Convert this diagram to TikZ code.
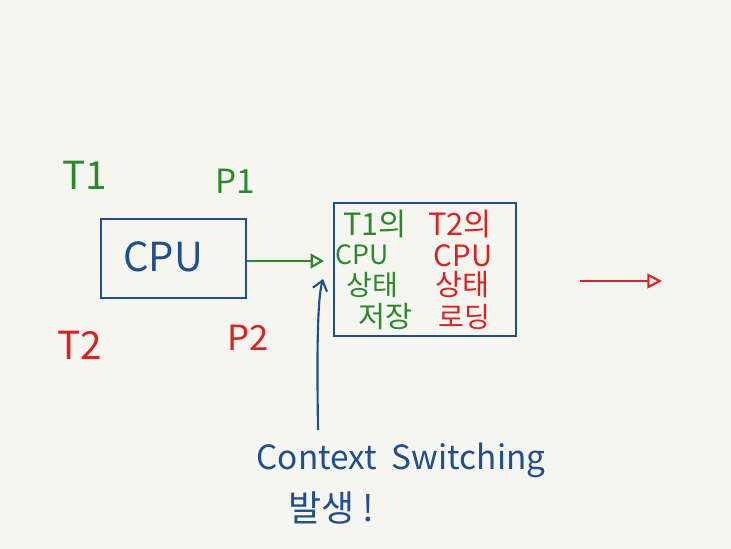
\documentclass[tikz,border=0pt]{standalone}
\usepackage{fontspec}
\setmainfont{Noto Sans CJK KR}
\usetikzlibrary{arrows.meta}
\definecolor{bgc}{HTML}{F6F6F1}
\definecolor{pgreen}{HTML}{2A8A2A}
\definecolor{pred}{HTML}{E0201E}
\definecolor{pblue}{HTML}{1F4F8F}
\tikzset{
  boxstyle/.style={draw=pblue, line width=1.5pt, inner sep=0pt},
  lbl/.style={inner sep=0pt, anchor=center},
  gtxt/.style={lbl, text=pgreen},
  rtxt/.style={lbl, text=pred},
  btxt/.style={lbl, text=pblue},
  conn/.style={line width=1.6pt},
}
\begin{document}
\begin{tikzpicture}[x=0.75pt,y=-0.75pt]
\fill[bgc] (0,0) rectangle (731,549);
\useasboundingbox (0,0) rectangle (731,549);

% labels outside
\node[gtxt, font=\fontsize{29}{34}\selectfont] (t1) at (85,175) {T1};
\node[gtxt, font=\fontsize{25}{30}\selectfont] (p1) at (235,181) {P1};
\node[rtxt, font=\fontsize{29}{34}\selectfont] (t2) at (80,345) {T2};
\node[rtxt, font=\fontsize{26}{30}\selectfont] (p2) at (248,338) {P2};

% CPU box
\node[boxstyle, minimum width=108.75pt, minimum height=59.25pt] (cpu) at (173.5,258.5) {};
\node[btxt, font=\fontsize{30}{34}\selectfont] (cputxt) at (163,257) {CPU};

% info box
\node[boxstyle, minimum width=136.5pt, minimum height=99.75pt] (info) at (425,269.5) {};
\node[gtxt, font=\fontsize{23}{26}\selectfont] (g1) at (375,224) {T1의};
\node[gtxt, font=\fontsize{20}{24}\selectfont] (g2) at (362,255) {CPU};
\node[gtxt, font=\fontsize{21}{24}\selectfont] (g3) at (372,285) {상태};
\node[gtxt, font=\fontsize{22}{24}\selectfont] (g4) at (385,317) {저장};
\node[rtxt, font=\fontsize{23}{26}\selectfont] (r1) at (460,224) {T2의};
\node[rtxt, font=\fontsize{22}{24}\selectfont] (r2) at (463,256) {CPU};
\node[rtxt, font=\fontsize{22}{24}\selectfont] (r3) at (462,285) {상태};
\node[rtxt, font=\fontsize{21}{24}\selectfont] (r4) at (464,317) {로딩};

% context switching text
\node[btxt, font=\fontsize{25}{30}\selectfont] (cs) at (401,460) {Context\ \ Switching};
\node[btxt, font=\fontsize{27}{30}\selectfont] (bs) at (331,508) {발생\ !};

% connectors
\draw[conn, pgreen, -{Triangle[open, length=10pt, width=11pt]}]
  (cpu.east |- 0,261) -- ([xshift=-6.75pt]info.west |- 0,261);
\coordinate (csTop) at (318,430);
\coordinate (infoIn) at (323,279);
\draw[conn, pblue, -{Straight Barb[length=7pt, width=11pt]}]
  (csTop) .. controls (317,360) and (317,300) .. (infoIn);

\coordinate (ra) at (580,281);
\coordinate (rb) at (662,281);
\draw[conn, pred, -{Triangle[open, length=11pt, width=11pt]}] (ra) -- (rb);
\end{tikzpicture}
\end{document}
